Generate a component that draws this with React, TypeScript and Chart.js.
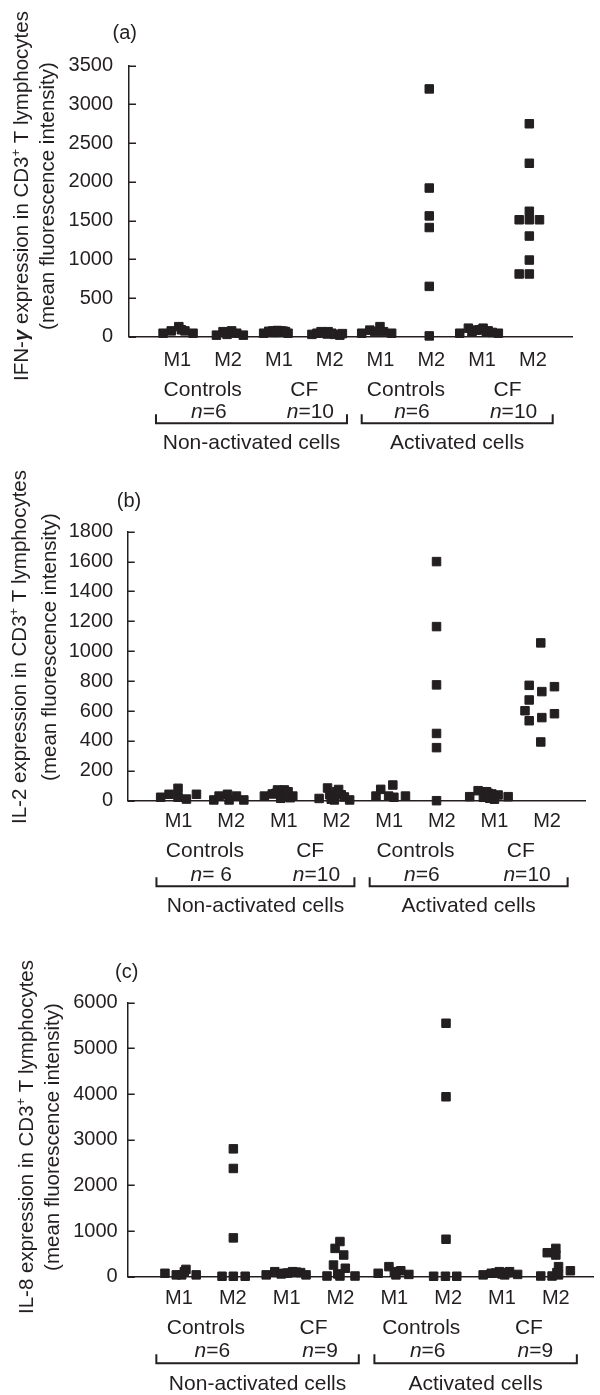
import React, { useEffect, useRef } from "react";
import { Chart, registerables } from "chart.js";

Chart.register(...registerables);

const FONT = "'Liberation Sans', Arial, Helvetica, sans-serif";
const INK = "#231f20";

// ---------- shared labels ----------
const xTickLabels = ["M1", "M2", "M1", "M2", "M1", "M2", "M1", "M2"];
const groupLabels = ["Controls", "CF", "Controls", "CF"];
const conditionLabels = ["Non-activated cells", "Activated cells"];

// ---------- (a) IFN-gamma ----------
const ifnYTicks = [0, 500, 1000, 1500, 2000, 2500, 3000, 3500];
const ifnNLabels = ["=6", "=10", "=6", "=10"];
const ifnValues = [
  [45, 75, 130, 90, 75, 45],
  [20, 65, 30, 75, 45, 20],
  [45, 70, 75, 80, 60, 75, 70, 45, 55, 65],
  [30, 45, 65, 50, 65, 45, 30, 20, 40, 35],
  [45, 85, 130, 65, 45, 65],
  [3200, 1920, 1560, 1410, 650, 10],
  [45, 110, 85, 110, 75, 45, 60, 90, 70, 55],
  [2750, 2240, 1620, 1510, 1510, 1510, 1300, 990, 810, 810],
];
const ifnJitter = [
  [-0.28, -0.12, 0.03, 0.08, 0.15, 0.31],
  [-0.23, -0.1, -0.02, 0.07, 0.17, 0.3],
  [-0.3, -0.2, -0.12, -0.03, 0.0, 0.05, 0.1, 0.18, -0.08, 0.13],
  [-0.35, -0.25, -0.17, -0.1, -0.03, 0.04, 0.1, 0.2, 0.25, -0.05],
  [-0.37, -0.21, -0.01, 0.06, 0.22, -0.11],
  [-0.04, -0.04, -0.04, -0.04, -0.04, -0.04],
  [-0.44, -0.27, -0.11, 0.02, 0.12, 0.32, -0.2, -0.05, 0.08, 0.2],
  [-0.07, -0.07, -0.07, -0.27, -0.07, 0.13, -0.07, -0.07, -0.27, -0.07],
];

// ---------- (b) IL-2 ----------
const il2YTicks = [0, 200, 400, 600, 800, 1000, 1200, 1400, 1600, 1800];
const il2NLabels = ["= 6", "=10", "=6", "=10"];
const il2Values = [
  [23, 43, 83, 23, 11, 43],
  [5, 31, 43, 5, 31, 5],
  [31, 45, 72, 72, 16, 38, 31, 50, 60, 20],
  [15, 85, 40, 5, 75, 40, 5, 10, 60, 25],
  [31, 76, 31, 105, 23, 31],
  [1600, 1165, 775, 450, 355, 0],
  [27, 67, 23, 60, 16, 45, 38, 27, 50, 10],
  [1056, 772, 763, 730, 674, 602, 535, 556, 582, 393],
];
const il2Jitter = [
  [-0.34, -0.18, -0.01, -0.01, 0.15, 0.34],
  [-0.33, -0.23, -0.07, -0.04, 0.1, 0.24],
  [-0.37, -0.22, -0.12, 0.01, -0.06, 0.04, 0.17, -0.15, 0.08, 0.12],
  [-0.33, -0.17, -0.13, -0.04, 0.04, 0.09, 0.25, -0.1, 0.0, 0.15],
  [-0.25, -0.16, -0.01, 0.07, 0.09, 0.31],
  [-0.1, -0.1, -0.1, -0.1, -0.1, -0.1],
  [-0.47, -0.31, -0.21, -0.15, -0.09, -0.05, 0.07, 0.26, -0.12, 0.0],
  [-0.12, -0.34, 0.14, -0.1, -0.34, -0.42, -0.34, -0.1, 0.14, -0.12],
];

// ---------- (c) IL-8 ----------
const il8YTicks = [0, 1000, 2000, 3000, 4000, 5000, 6000];
const il8NLabels = ["=6", "=9", "=6", "=9"];
const il8Values = [
  [75, 40, 160, 110, 40, 40],
  [2800, 2370, 850, 10, 10, 10],
  [40, 110, 75, 110, 90, 40, 60, 80, 100],
  [770, 620, 475, 255, 185, 15, 15, 15, 60],
  [75, 220, 110, 130, 50, 40],
  [5550, 3940, 820, 10, 10, 10],
  [40, 75, 110, 40, 110, 50, 80, 60, 90],
  [525, 620, 475, 220, 130, 15, 15, 40, 90],
];
const il8Jitter = [
  [-0.26, -0.05, 0.13, 0.1, 0.32, 0.05],
  [0.01, 0.01, 0.01, -0.2, 0.01, 0.23],
  [-0.38, -0.22, -0.04, 0.11, 0.26, 0.36, -0.1, 0.02, 0.18],
  [-0.01, -0.1, 0.06, -0.13, 0.09, -0.25, -0.01, 0.27, -0.05],
  [-0.3, -0.1, 0, 0.12, 0.27, 0.03],
  [-0.04, -0.04, -0.04, -0.27, -0.05, 0.16],
  [-0.35, -0.2, -0.05, 0.05, 0.14, 0.29, -0.12, 0.0, 0.1],
  [-0.16, 0, 0, 0.05, 0.27, -0.28, -0.07, 0.05, 0.02],
];

// ---------- panel layout configs ----------
const panels = [
  {
    key: "a", letter: "(a)", lead: "IFN-", greek: "\u03b3",
    values: ifnValues, jitter: ifnJitter, yTicks: ifnYTicks, nLabels: ifnNLabels,
    top: 0, height: 460, areaTop: 65.7, areaBottom: 336.7, areaLeft: 129, areaRight: 572,
    xMin: 0.049, xMax: 8.77, xPad: 11.6, yPad: 16,
    groupY: 390, nY: 412.5, bracketY: 423.3, condY: 443,
    letterX: 124.7, letterY: 33, t1x: 22, t2x: 48, tcy: 196,
  },
  {
    key: "b", letter: "(b)", lead: "IL-2", greek: "",
    values: il2Values, jitter: il2Jitter, yTicks: il2YTicks, nLabels: il2NLabels,
    top: 460, height: 455, areaTop: 71.7, areaBottom: 340.7, areaLeft: 127.7, areaRight: 585,
    xMin: 0.034, xMax: 8.72, xPad: 9, yPad: 14.5,
    groupY: 391.7, nY: 415, bracketY: 426.3, condY: 446.7,
    letterX: 129, letterY: 41, t1x: 20.8, t2x: 50, tcy: 187,
  },
  {
    key: "c", letter: "(c)", lead: "IL-8", greek: "",
    values: il8Values, jitter: il8Jitter, yTicks: il8YTicks, nLabels: il8NLabels,
    top: 915, height: 480, areaTop: 87.7, areaBottom: 361.7, areaLeft: 127.7, areaRight: 600,
    xMin: 0.048, xMax: 8.69, xPad: 9.6, yPad: 10,
    groupY: 413, nY: 436, bracketY: 448.3, condY: 469,
    letterX: 126.7, letterY: 57, t1x: 27.5, t2x: 53, tcy: 222,
  },
];

const bracketSpans = [
  [0.58, 4.34],
  [4.63, 8.39],
];

const XAXIS_H = 40;
const SIZE = 20;
const LABEL_SIZE = 21;
const TITLE_SIZE = 20.5;

type Seg = { t: string; f: string; rise?: number };

function drawRichRotated(ctx: CanvasRenderingContext2D, segs: Seg[], cx: number, cy: number) {
  ctx.save();
  ctx.translate(cx, cy);
  ctx.rotate(-Math.PI / 2);
  const widths = segs.map((s) => {
    ctx.font = s.f;
    return ctx.measureText(s.t).width;
  });
  const total = widths.reduce((a, b) => a + b, 0);
  let x = -total / 2;
  ctx.textBaseline = "middle";
  ctx.textAlign = "left";
  segs.forEach((s, i) => {
    ctx.font = s.f;
    ctx.fillText(s.t, x, -(s.rise || 0));
    x += widths[i];
  });
  ctx.restore();
}

function drawRichCentered(ctx: CanvasRenderingContext2D, segs: Seg[], cx: number, cy: number) {
  const widths = segs.map((s) => {
    ctx.font = s.f;
    return ctx.measureText(s.t).width;
  });
  const total = widths.reduce((a, b) => a + b, 0);
  let x = cx - total / 2;
  ctx.textBaseline = "middle";
  ctx.textAlign = "left";
  segs.forEach((s, i) => {
    ctx.font = s.f;
    ctx.fillText(s.t, x, cy - (s.rise || 0));
    x += widths[i];
  });
}

function Panel({ cfg }: { cfg: any }) {
  const ref = useRef<HTMLCanvasElement | null>(null);

  useEffect(() => {
    const canvas = ref.current;
    if (!canvas) return;
    const points: { x: number; y: number }[] = [];
    cfg.values.forEach((g: number[], gi: number) => {
      g.forEach((v, j) => points.push({ x: gi + 1 + cfg.jitter[gi][j], y: v }));
    });

    const normal = `${SIZE}px ${FONT}`;
    const labelFont = `${LABEL_SIZE}px ${FONT}`;
    const titleFont = `${TITLE_SIZE}px ${FONT}`;
    const extras = {
      id: "extras-" + cfg.key,
      afterDraw(chart: any) {
        const { ctx, chartArea } = chart;
        const xs = chart.scales.x;
        const ys = chart.scales.y;
        ctx.save();
        ctx.fillStyle = INK;
        ctx.strokeStyle = INK;

        // inward y tick marks
        ctx.lineWidth = 1.5;
        ys.ticks.forEach((t: any) => {
          const py = Math.round(ys.getPixelForValue(t.value)) + 0.25;
          ctx.beginPath();
          ctx.moveTo(chartArea.left, py);
          ctx.lineTo(chartArea.left + 7, py);
          ctx.stroke();
        });

        // panel letter
        ctx.font = normal;
        ctx.textAlign = "center";
        ctx.textBaseline = "middle";
        ctx.fillText(cfg.letter, cfg.letterX, cfg.letterY);

        // group labels and n labels
        groupLabels.forEach((g, k) => {
          const xm = xs.getPixelForValue(2 * k + 1.5);
          ctx.font = labelFont;
          ctx.textAlign = "center";
          ctx.textBaseline = "middle";
          ctx.fillText(g, xm, cfg.groupY);
          const xn = xs.getPixelForValue(2 * k + 1.5 + 0.12);
          drawRichCentered(
            ctx,
            [
              { t: "n", f: `italic ${LABEL_SIZE}px ${FONT}` },
              { t: cfg.nLabels[k], f: labelFont },
            ],
            xn,
            cfg.nY
          );
        });

        // brackets and condition labels
        ctx.lineWidth = 2;
        bracketSpans.forEach((sp, i) => {
          const x1 = xs.getPixelForValue(sp[0]);
          const x2 = xs.getPixelForValue(sp[1]);
          const by = cfg.bracketY;
          ctx.beginPath();
          ctx.moveTo(x1, by - 9);
          ctx.lineTo(x1, by);
          ctx.lineTo(x2, by);
          ctx.lineTo(x2, by - 9);
          ctx.stroke();
          ctx.font = labelFont;
          ctx.textAlign = "center";
          ctx.textBaseline = "middle";
          ctx.fillText(conditionLabels[i], (x1 + x2) / 2, cfg.condY);
        });

        // y-axis title (two rotated lines)
        const line1: Seg[] = [{ t: cfg.lead, f: titleFont }];
        if (cfg.greek) line1.push({ t: cfg.greek, f: `italic bold ${TITLE_SIZE}px ${FONT}` });
        line1.push({ t: " expression in CD3", f: titleFont });
        line1.push({ t: "+", f: `13px ${FONT}`, rise: 6 });
        line1.push({ t: " T lymphocytes", f: titleFont });
        drawRichRotated(ctx, line1, cfg.t1x, cfg.tcy);
        drawRichRotated(ctx, [{ t: "(mean fluorescence intensity)", f: titleFont }], cfg.t2x, cfg.tcy);

        ctx.restore();
      },
    };

    const chart = new Chart(canvas, {
      type: "scatter",
      data: {
        datasets: [
          {
            data: points,
            pointStyle: "rect",
            pointRadius: 6,
            pointHoverRadius: 6,
            backgroundColor: INK,
            borderColor: INK,
            borderWidth: 1,
            clip: false,
          } as any,
        ],
      },
      options: {
        animation: false,
        responsive: false,
        maintainAspectRatio: false,
        events: [],
        layout: {
          padding: {
            left: 0,
            top: cfg.areaTop,
            right: 600 - cfg.areaRight,
            bottom: cfg.height - cfg.areaBottom - XAXIS_H,
          },
        },
        plugins: {
          legend: { display: false },
          tooltip: { enabled: false },
          title: { display: false },
        },
        scales: {
          x: {
            type: "linear",
            min: cfg.xMin,
            max: cfg.xMax,
            grid: { display: false, drawTicks: false },
            border: { display: true, color: INK, width: 1.5 },
            afterBuildTicks: (s: any) => {
              s.ticks = xTickLabels.map((_, i) => ({ value: i + 1 }));
            },
            afterFit: (s: any) => {
              s.height = XAXIS_H;
            },
            ticks: {
              autoSkip: false,
              maxRotation: 0,
              minRotation: 0,
              padding: cfg.xPad,
              color: INK,
              font: { family: FONT, size: SIZE },
              callback: (v: any) => xTickLabels[Math.round(Number(v)) - 1] ?? "",
            },
          },
          y: {
            type: "linear",
            min: cfg.yTicks[0],
            max: cfg.yTicks[cfg.yTicks.length - 1],
            grid: { display: false, drawTicks: false },
            border: { display: true, color: INK, width: 1.5 },
            afterBuildTicks: (s: any) => {
              s.ticks = cfg.yTicks.map((v: number) => ({ value: v }));
            },
            afterFit: (s: any) => {
              s.width = cfg.areaLeft;
            },
            ticks: {
              padding: cfg.yPad,
              color: INK,
              font: { family: FONT, size: SIZE },
              callback: (v: any) => String(v),
            },
          },
        },
      } as any,
      plugins: [extras],
    });

    return () => chart.destroy();
  }, [cfg]);

  return (
    <canvas
      ref={ref}
      width={600}
      height={cfg.height}
      style={{ position: "absolute", left: 0, top: cfg.top, width: 600, height: cfg.height }}
    />
  );
}

export default function App() {
  return (
    <div style={{ position: "absolute", left: 0, top: 0, width: 600, height: 1395, background: "#fff", overflow: "hidden" }}>
      {panels.map((p) => (
        <Panel key={p.key} cfg={p} />
      ))}
    </div>
  );
}
